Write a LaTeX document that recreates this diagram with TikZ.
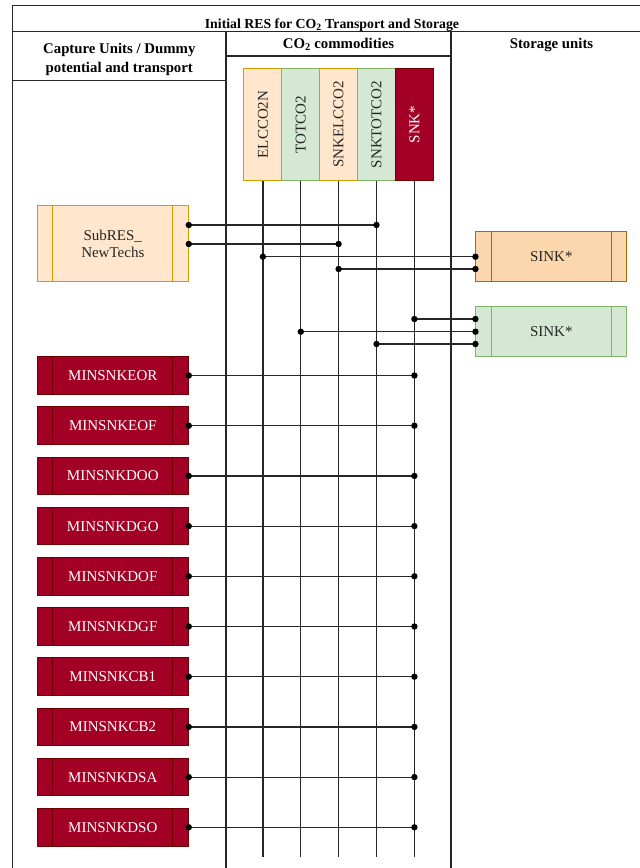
\documentclass[tikz,border=0pt]{standalone}
\usepackage{fontspec}
\setmainfont{Liberation Serif}
\usetikzlibrary{decorations.markings}
\definecolor{orfill}{HTML}{FFE6CC}
\definecolor{ordraw}{HTML}{D79B00}
\definecolor{ortwofill}{HTML}{FAD7AC}
\definecolor{ortwodraw}{HTML}{B46504}
\definecolor{grfill}{HTML}{D5E8D4}
\definecolor{grdraw}{HTML}{82B366}
\definecolor{rdfill}{HTML}{A20025}
\definecolor{rddraw}{HTML}{6F0000}
\begin{document}
\begin{tikzpicture}[x=1pt,y=-1pt,
  frame/.style={line width=1.2pt, draw=black!85},
  ttlstyle/.style={font=\fontsize{13.8}{16}\selectfont\bfseries, inner sep=0, anchor=base},
  hdr/.style={font=\fontsize{14.8}{18}\selectfont\bfseries, inner sep=0, anchor=base},
  proc/.style={draw=#1, line width=1pt,
    path picture={\draw[#1, line width=1pt]
      ([xshift=15.4pt]path picture bounding box.north west) -- ([xshift=15.4pt]path picture bounding box.south west)
      ([xshift=-15.4pt]path picture bounding box.north east) -- ([xshift=-15.4pt]path picture bounding box.south east);}},
  minsnk/.style={proc=rddraw, fill=rdfill, text=white, minimum width=151pt, minimum height=37.7pt, inner sep=0, font=\fontsize{15}{18}\selectfont},
  sinkbox/.style={minimum width=150.7pt, minimum height=50pt, inner sep=0, text=black!85, font=\fontsize{15}{18}\selectfont},
  comm/.style={draw=#1, line width=1pt, minimum width=37.86pt, minimum height=112.4pt, inner sep=0, font=\fontsize{15}{18}\selectfont},
  conn/.style={line width=1.2pt, draw=black!85},
  dots/.style={postaction=decorate, decoration={markings,
    mark=at position 0 with {\fill[black] (0,0) circle (3.2pt);},
    mark=at position 1 with {\fill[black] (0,0) circle (3.2pt);}}}
]
\useasboundingbox (0,0) rectangle (640,868);
% table frame
\draw[frame] (12.7,870) -- (12.7,5.7) -- (642,5.7);
\draw[frame] (12.7,31.7) -- (642,31.7);
\draw[frame] (12.7,80.7) -- (226,80.7);
\draw[frame] (226,56) -- (451,56);
\draw[frame] (226,31.7) -- (226,870);
\draw[frame] (451,31.7) -- (451,870);
% headers
\node[ttlstyle] (ttl) at (332,28) {Initial RES for CO\textsubscript{2} Transport and Storage};
\node[hdr] (hcapa) at (119.3,53.5) {Capture Units / Dummy};
\node[hdr] (hcapb) at (119.3,72) {potential and transport};
\node[hdr] (hcom) at (338.5,48.5) {CO\textsubscript{2} commodities};
\node[hdr] (hsto) at (551.5,48.5) {Storage units};
% commodities
\node[comm=ordraw, fill=orfill, text=black!85] (elc) at (262.9,124.5) {\rotatebox{90}{ELCCO2N}};
\node[comm=grdraw, fill=grfill, text=black!85] (tot) at (300.8,124.5) {\rotatebox{90}{TOTCO2}};
\node[comm=ordraw, fill=orfill, text=black!85] (snkelc) at (338.6,124.5) {\rotatebox{90}{SNKELCCO2}};
\node[comm=grdraw, fill=grfill, text=black!85] (snktot) at (376.5,124.5) {\rotatebox{90}{SNKTOTCO2}};
\node[comm=rddraw, fill=rdfill, text=white] (snk) at (414.4,124.5) {\rotatebox{90}{SNK*}};
\foreach \c in {elc,tot,snkelc,snktot,snk}{
  \coordinate (\c-end) at (\c.south |- 0,857);
  \draw[conn] (\c.south) -- (\c-end);
}
% SubRES
\node[proc=ordraw, fill=orfill, minimum width=151pt, minimum height=76pt, inner sep=0, text=black!85,
  align=center, font=\fontsize{15}{17.5}\selectfont] (sub) at (112.8,243.7) {SubRES\_\\NewTechs};
% storage
\node[sinkbox, proc=ortwodraw, fill=ortwofill] (sinko) at (551.3,256.7) {SINK*};
\node[sinkbox, proc=grdraw, fill=grfill] (sinkg) at (551.3,331.7) {SINK*};
% connections
\draw[conn,dots] (sub.east |- 0,225) -- (snktot.south |- 0,225);
\draw[conn,dots] (sub.east |- 0,244) -- (snkelc.south |- 0,244);
\draw[conn,dots] (elc.south |- 0,256.7) -- (sinko.west |- 0,256.7);
\draw[conn,dots] (snkelc.south |- 0,269) -- (sinko.west |- 0,269);
\draw[conn,dots] (snk.south |- 0,319) -- (sinkg.west |- 0,319);
\draw[conn,dots] (tot.south |- 0,331.7) -- (sinkg.west |- 0,331.7);
\draw[conn,dots] (snktot.south |- 0,344) -- (sinkg.west |- 0,344);
% capture units
\foreach \n [count=\i from 0] in {EOR,EOF,DOO,DGO,DOF,DGF,CB1,CB2,DSA,DSO}{
  \node[minsnk] (m\n) at (112.8,{375.5+50.2*\i}) {MINSNK\n};
  \draw[conn,dots] (m\n.east) -- (snk.south |- m\n.east);
}
\end{tikzpicture}
\end{document}
